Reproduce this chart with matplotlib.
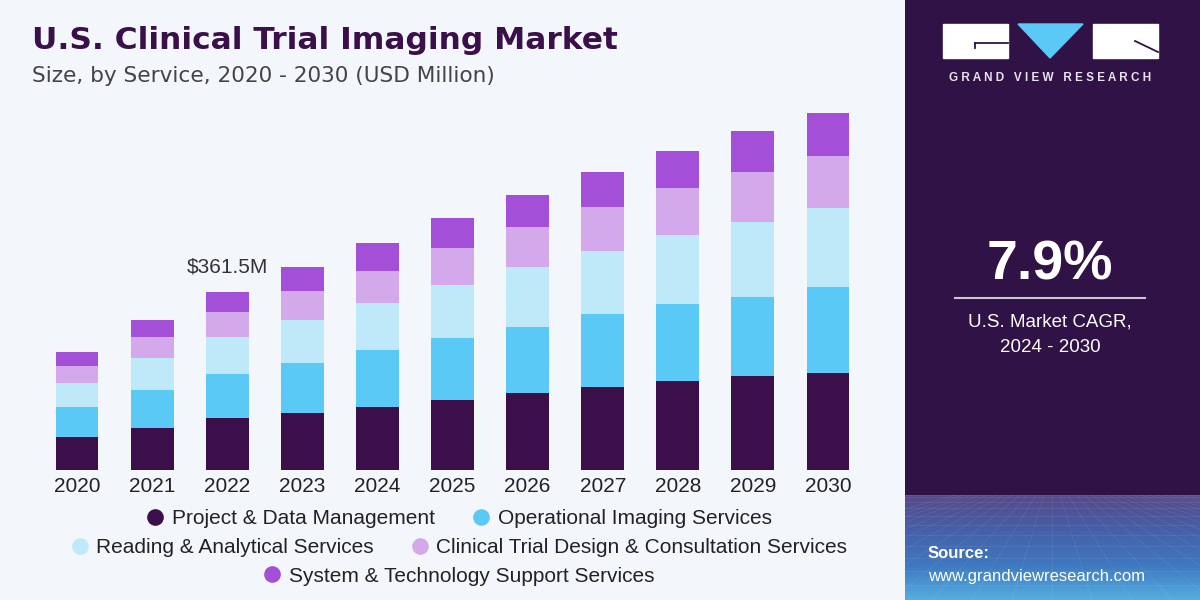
import matplotlib.pyplot as plt
import numpy as np
from matplotlib.colors import LinearSegmentedColormap
from matplotlib.lines import Line2D
from matplotlib.patches import Rectangle, Polygon

# Market size by service, USD Million
years = ['2020', '2021', '2022', '2023', '2024', '2025', '2026', '2027', '2028', '2029', '2030']
project_data = [67, 85, 105.5, 116, 128, 142, 156, 168.5, 181, 191, 197]
operational = [61, 77, 89.5, 101.5, 116, 126, 134, 148, 156, 160, 175]
reading = [49, 65, 75, 87, 95.5, 107.5, 122, 128, 140, 152, 160]
design = [34.5, 42.5, 51, 59, 65, 75, 81, 89, 95.5, 101.5, 105.5]
system = [28.5, 34.5, 40.5, 49, 57, 61, 65, 71, 75, 83, 87]

series_names = ['Project & Data Management', 'Operational Imaging Services',
                'Reading & Analytical Services', 'Clinical Trial Design & Consultation Services',
                'System & Technology Support Services']
series_colors = ['#3a0f4a', '#5bc9f5', '#bfe9f9', '#d3a9ec', '#a34fd7']
series = [project_data, operational, reading, design, system]

plt.rcParams['font.family'] = ['Liberation Sans', 'DejaVu Sans']

fig = plt.figure(figsize=(12, 6), dpi=100)
fig.patch.set_facecolor('#f3f7fb')

# bars
ax = fig.add_axes([0.0298, 0.2167, 0.6946, 0.6167])
ax.set_facecolor('none')
x = np.arange(len(years))
bottom = np.zeros(len(years))
for vals, col in zip(series, series_colors):
    ax.bar(x, vals, bottom=bottom, width=0.57, color=col, edgecolor='none')
    bottom += np.array(vals)
ax.set_xlim(-0.55, len(years) - 0.45)
ax.set_ylim(0, 751.5)
ax.set_xticks(x)
ax.set_xticklabels(years, fontsize=15, color='#222222')
ax.tick_params(axis='x', length=0, pad=5)
ax.set_yticks([])
for s in ax.spines.values():
    s.set_visible(False)

i22 = years.index('2022')
ax.annotate('$361.5M', (x[i22], bottom[i22]), xytext=(0, 11), textcoords='offset points',
            ha='center', va='bottom', fontsize=15, color='#333333')

# title
fig.text(0.027, 0.933, 'U.S. Clinical Trial Imaging Market', fontsize=22.5, fontweight='bold',
         family='DejaVu Sans', color='#3a0f4a', va='center')
fig.text(0.027, 0.874, 'Size, by Service, 2020 - 2030 (USD Million)', fontsize=15.6,
         family='DejaVu Sans', color='#444444', va='center')

# legend rows
rows = [[0, 1], [2, 3], [4]]
row_y = [0.135, 0.087, 0.040]
for r, yy in zip(rows, row_y):
    handles = [Line2D([], [], marker='o', linestyle='none', markersize=12,
                      markerfacecolor=series_colors[k], markeredgecolor='none') for k in r]
    labels = [series_names[k] for k in r]
    fig.legend(handles, labels, loc='center', bbox_to_anchor=(0.381, yy), ncol=len(r),
               frameon=False, fontsize=15, handletextpad=0.2, columnspacing=1.6,
               handlelength=1.2, labelcolor='#222222')

# right panel
axr = fig.add_axes([905 / 1200, 0, 295 / 1200, 1])
axr.axis('off')
axr.add_patch(Rectangle((0, 0), 295, 600, color='#311246', zorder=0))
cmap = LinearSegmentedColormap.from_list('grad', ['#56498a', '#4560a8', '#3f78bf', '#55aee0'])
grad = np.linspace(0, 1, 256).reshape(-1, 1)
axr.imshow(grad, extent=[0, 295, 600, 495], aspect='auto', cmap=cmap, zorder=1)
# perspective grid texture
for k in range(12):
    yy = 495 + 105 * (k / 11) ** 1.6
    axr.plot([0, 295], [yy, yy], color='white', lw=0.5, alpha=0.09, zorder=2)
for k in range(-12, 25):
    x0 = 147 + k * 8
    x1 = 147 + k * 40
    axr.plot([x0, x1], [495, 600], color='white', lw=0.5, alpha=0.09, zorder=2)
axr.set_xlim(0, 295)
axr.set_ylim(600, 0)

# logo
axr.add_patch(Rectangle((38, 24), 65, 34, color='white', zorder=2))
axr.add_patch(Polygon([(113, 24), (178, 24), (145, 58)], closed=True, color='#5bc9f5', zorder=2))
axr.add_patch(Rectangle((188, 24), 65, 34, color='white', zorder=2))
axr.plot([70, 103], [43, 43], color='#311246', lw=1.3, zorder=3)
axr.plot([70, 70], [43, 48], color='#311246', lw=1.3, zorder=3)
axr.plot([230, 253], [41, 52], color='#311246', lw=1.3, zorder=3)
axr.text(145.5, 78, 'G R A N D   V I E W   R E S E A R C H', ha='center', va='center',
         fontsize=8.5, fontweight='bold', color='#e8e4ee', zorder=3)

axr.text(145, 266, '7.9%', ha='center', va='center', fontsize=40, fontweight='bold',
         color='white', zorder=3)
axr.plot([50, 240], [298, 298], color='#cfc6d8', lw=1.5, zorder=3)
axr.text(145, 322, 'U.S. Market CAGR,', ha='center', va='center', fontsize=13.5,
         color='white', zorder=3)
axr.text(145, 347, '2024 - 2030', ha='center', va='center', fontsize=13.5,
         color='white', zorder=3)

axr.text(23, 553, 'Source:', ha='left', va='center', fontsize=12, fontweight='bold',
         color='white', zorder=3)
axr.text(23, 577, 'www.grandviewresearch.com', ha='left', va='center', fontsize=12,
         color='white', zorder=3)

fig.savefig('out.png', dpi=100, facecolor=fig.get_facecolor())
